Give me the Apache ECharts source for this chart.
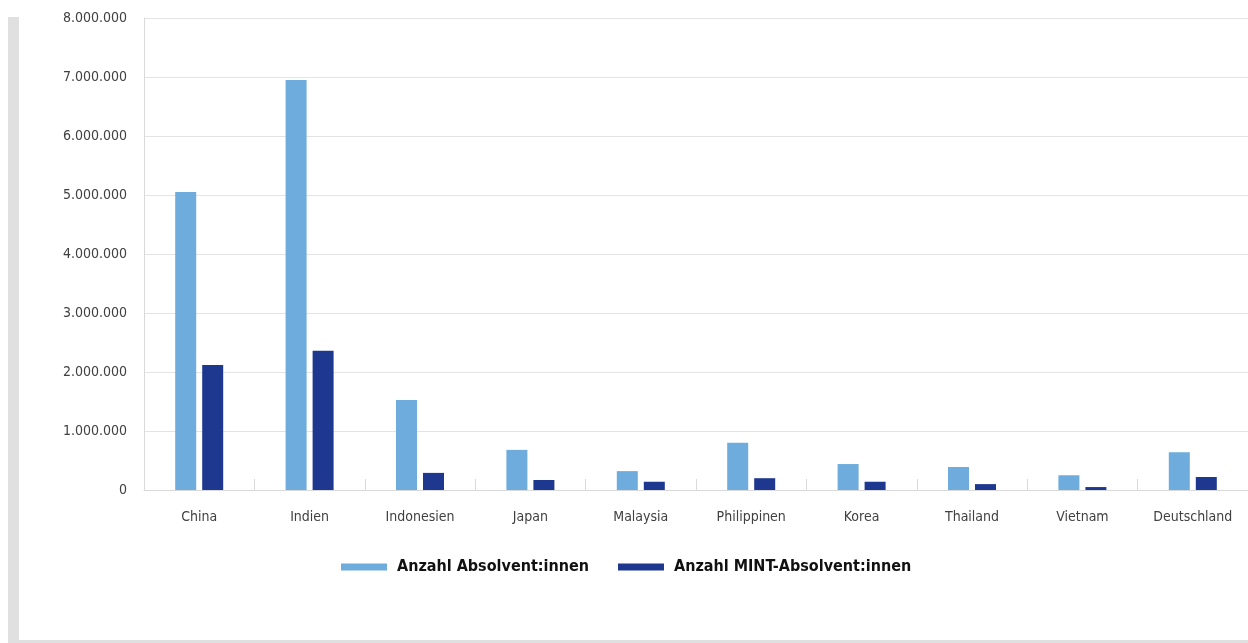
<!DOCTYPE html>
<html><head><meta charset="utf-8">
<script src="https://cdn.jsdelivr.net/npm/echarts@6/dist/echarts.min.js"></script>
<style>html,body{margin:0;padding:0;background:#fff}#c{width:1248px;height:643px}</style>
</head><body><div id="c"></div>
<script>
const categories = ['China','Indien','Indonesien','Japan','Malaysia','Philippinen','Korea','Thailand','Vietnam','Deutschland'];
const absolventen = [5050000, 6950000, 1525000, 680000, 320000, 800000, 440000, 390000, 250000, 640000];
const mintAbsolventen = [2120000, 2360000, 290000, 170000, 140000, 200000, 140000, 100000, 50000, 220000];
const seriesNames = ['Anzahl Absolvent:innen', 'Anzahl MINT-Absolvent:innen'];

const FONT = '"DejaVu Sans Condensed", "DejaVu Sans", sans-serif';
const chart = echarts.init(document.getElementById('c'));
function fmt(v){ return String(v).replace(/\B(?=(\d{3})+(?!\d))/g, '.'); }
chart.setOption({
  animation: false,
  backgroundColor: '#ffffff',
  graphic: [
    {type:'rect', shape:{x:8, y:17, width:11, height:626}, style:{fill:'#e0e0e0'}, silent:true},
    {type:'rect', shape:{x:19, y:640, width:1229, height:3}, style:{fill:'#e0e0e0'}, silent:true}
  ],
  grid: {left:144, right:-3, top:18, bottom:153, containLabel:false},
  legend: {
    left: 336, top: 554,
    icon: 'rect', itemWidth: 46, itemHeight: 7, itemGap: 29,
    textStyle: {fontFamily: FONT, fontWeight: 'bold', fontSize: 16, color: '#111', padding: [0,0,0,5]},
    data: seriesNames
  },
  xAxis: {
    type: 'category', data: categories,
    axisLine: {lineStyle: {color: '#d9d9d9', width: 1}},
    axisTick: {show: true, inside: true, length: 11, lineStyle: {color: '#d9d9d9'}},
    axisLabel: {fontFamily: FONT, fontSize: 14, color: '#404040', margin: 20}
  },
  yAxis: {
    type: 'value', min: 0, max: 8000000, interval: 1000000,
    axisLine: {show: true, lineStyle: {color: '#d9d9d9'}},
    axisTick: {show: false},
    splitLine: {lineStyle: {color: '#e3e3e3'}},
    axisLabel: {fontFamily: FONT, fontSize: 14, color: '#404040', margin: 17, formatter: fmt}
  },
  series: [
    {name: seriesNames[0], type: 'bar', data: absolventen, barWidth: 21, barGap: '28.6%', itemStyle: {color: '#6dacdc'}},
    {name: seriesNames[1], type: 'bar', data: mintAbsolventen, barWidth: 21, barGap: '28.6%', itemStyle: {color: '#1f388f'}}
  ]
});
</script></body></html>
